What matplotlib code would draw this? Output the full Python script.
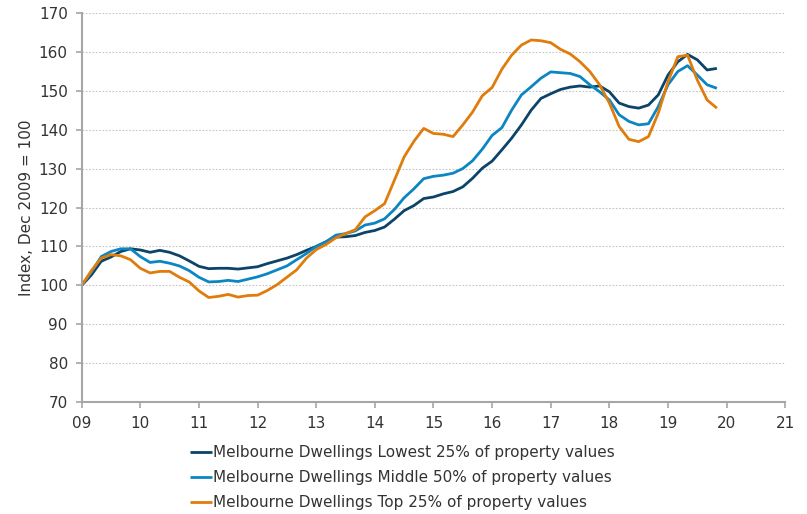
"""Melbourne dwellings: index by value segment, Dec 2009 = 100."""

import matplotlib

matplotlib.use("Agg")
import matplotlib.pyplot as plt
import numpy as np

# ---- Data (every second month from the start) -------------------------
months = np.arange(0, 131, 2)

lowest_25 = [
    100.0, 102.7, 106.2, 107.3, 108.7, 109.4, 109.1, 108.5, 109.0, 108.5,
    107.6, 106.3, 104.9, 104.3, 104.4, 104.4, 104.2, 104.5, 104.8, 105.6,
    106.3, 107.0, 107.9, 109.0, 110.0, 111.2, 112.4, 112.5, 112.8, 113.6,
    114.1, 115.0, 117.0, 119.2, 120.5, 122.3, 122.7, 123.5, 124.1, 125.3,
    127.5, 130.1, 131.9, 134.8, 137.8, 141.2, 145.0, 148.0, 149.2, 150.3,
    150.9, 151.2, 150.9, 151.2, 149.7, 146.8, 145.9, 145.5, 146.3, 148.9,
    154.0, 157.4, 159.3, 157.9, 155.3, 155.7,
]
middle_50 = [
    100.0, 103.4, 107.4, 108.7, 109.4, 109.4, 107.4, 105.9, 106.2, 105.7,
    105.0, 103.8, 102.1, 100.9, 101.0, 101.3, 101.0, 101.6, 102.2, 103.0,
    104.0, 105.0, 106.6, 108.2, 110.0, 111.2, 112.9, 113.3, 114.0, 115.5,
    116.0, 117.1, 119.5, 122.5, 124.8, 127.4, 128.0, 128.3, 128.8, 130.0,
    132.0, 135.0, 138.5, 140.5, 145.0, 148.9, 151.0, 153.2, 154.8, 154.6,
    154.4, 153.6, 151.5, 149.7, 147.6, 143.8, 142.1, 141.2, 141.5, 145.9,
    151.5, 154.9, 156.4, 154.0, 151.5, 150.6,
]
top_25 = [
    100.0, 103.8, 107.0, 107.9, 107.6, 106.6, 104.4, 103.2, 103.6, 103.6,
    102.1, 100.9, 98.6, 96.9, 97.2, 97.7, 97.0, 97.4, 97.5, 98.7,
    100.2, 102.1, 104.0, 107.0, 109.2, 110.5, 112.2, 113.3, 114.3, 117.6,
    119.2, 121.0, 127.0, 133.0, 137.0, 140.3, 139.0, 138.8, 138.2, 141.2,
    144.5, 148.7, 150.8, 155.5, 159.1, 161.7, 163.0, 162.8, 162.3, 160.6,
    159.4, 157.4, 154.9, 151.5, 146.8, 140.8, 137.5, 136.9, 138.2, 144.2,
    152.3, 158.7, 159.1, 152.7, 147.6, 145.5,
]

series = {
    "Melbourne Dwellings Lowest 25% of property values": lowest_25,
    "Melbourne Dwellings Middle 50% of property values": middle_50,
    "Melbourne Dwellings Top 25% of property values": top_25,
}
year_ticks = list(range(9, 22))
y_ticks = list(range(70, 171, 10))

# ---- Style ----------------------------------------------------------
_COLOURS = ["#0b4468", "#0b86c3", "#e07c0c"]
TEXT = "#333333"
SPINE = "#a6a6a6"

plt.rcParams["font.family"] = ["DejaVu Sans"]
plt.rcParams["font.size"] = 11

fig = plt.figure(figsize=(8.07, 5.14), dpi=100)
ax = fig.add_axes([0.1012, 0.2173, 0.8719, 0.7580])

years = 9 + months / 12
for (label, vals), c in zip(series.items(), _COLOURS):
    ax.plot(years, vals, color=c, lw=2.0, label=label, solid_capstyle="butt")

ax.set_xlim(9, 21)
ax.set_ylim(70, 170)
ax.set_xticks(year_ticks, [f"{t:02d}" for t in year_ticks])
ax.set_yticks(y_ticks)

for v in y_ticks[1:]:
    ax.axhline(v, color="#c4c4c4", lw=0.8, ls=(0, (1.5, 1.5)), zorder=0)

for side in ("top", "right"):
    ax.spines[side].set_visible(False)
for side in ("left", "bottom"):
    ax.spines[side].set_color(SPINE)
    ax.spines[side].set_linewidth(1.5)

ax.tick_params(axis="both", colors=SPINE, labelcolor=TEXT, width=1.2,
               length=4, direction="out")
ax.tick_params(axis="x", pad=6)
ax.tick_params(axis="y", pad=6)

ax.set_ylabel("Index, Dec 2009 = 100", color=TEXT)
ax.yaxis.set_label_coords(-0.068, 0.5)

ax.legend(
    loc="upper left",
    bbox_to_anchor=(0.235, 0.134),
    bbox_transform=fig.transFigure,
    frameon=False,
    borderpad=0,
    borderaxespad=0,
    handlelength=1.45,
    handletextpad=0.1,
    labelspacing=0.65,
    labelcolor=TEXT,
)

fig.savefig("out.png", dpi=100)
plt.close(fig)
